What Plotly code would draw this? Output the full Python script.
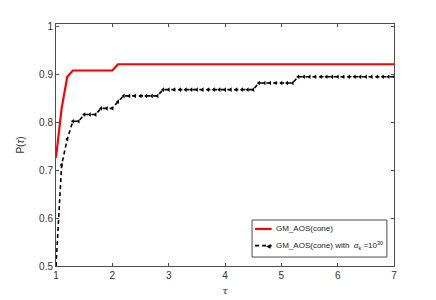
import plotly.graph_objects as go

tau_red = [1.0, 1.1, 1.2, 1.3, 2.0, 2.1, 7.0]
p_red = [0.726, 0.829, 0.895, 0.908, 0.908, 0.921, 0.921]

tau_blk = [1.0, 1.1, 1.2, 1.3, 1.4, 1.5, 1.6, 1.7, 1.8, 1.9, 2.0,
           2.1, 2.2, 2.3, 2.4, 2.5, 2.6, 2.7, 2.8, 2.9, 3.0,
           3.1, 3.2, 3.3, 3.4, 3.5, 3.6, 3.7, 3.8, 3.9, 4.0,
           4.1, 4.2, 4.3, 4.4, 4.5, 4.6, 4.7, 4.8, 4.9, 5.0,
           5.1, 5.2, 5.3, 5.4, 5.5, 5.6, 5.7, 5.8, 5.9, 6.0,
           6.1, 6.2, 6.3, 6.4, 6.5, 6.6, 6.7, 6.8, 6.9, 7.0]
p_blk = [0.500, 0.711, 0.765, 0.802, 0.802, 0.816, 0.816, 0.816, 0.829, 0.829, 0.829,
         0.843, 0.855, 0.855, 0.855, 0.855, 0.855, 0.855, 0.855, 0.868, 0.868,
         0.868, 0.868, 0.868, 0.868, 0.868, 0.868, 0.868, 0.868, 0.868, 0.868,
         0.868, 0.868, 0.868, 0.868, 0.868, 0.882, 0.882, 0.882, 0.882, 0.882,
         0.882, 0.882, 0.895, 0.895, 0.895, 0.895, 0.895, 0.895, 0.895, 0.895,
         0.895, 0.895, 0.895, 0.895, 0.895, 0.895, 0.895, 0.895, 0.895, 0.895]

x_ticks = [1, 2, 3, 4, 5, 6, 7]
y_ticks = [0.5, 0.6, 0.7, 0.8, 0.9, 1.0]
y_labels = ["0.5", "0.6", "0.7", "0.8", "0.9", "1"]

legend_names = ["GM_AOS(cone)",
                "GM_AOS(cone) with  <i>α</i><sub>k</sub> =10<sup>30</sup>"]

FONT = "Liberation Sans, Arial, sans-serif"
AX = "#4d4d4d"
TXT = "#333333"

fig = go.Figure()
fig.add_trace(go.Scatter(
    x=tau_red, y=p_red, mode="lines", name=legend_names[0], showlegend=False,
    line=dict(color="#ff0000", width=2.2)))
fig.add_trace(go.Scatter(
    x=tau_blk, y=p_blk, mode="lines+markers", name=legend_names[1], showlegend=False,
    line=dict(color="black", width=1.6, dash="4px,3px"),
    marker=dict(symbol="triangle-left", size=4, color="black")))

axis_common = dict(
    showline=True, linecolor=AX, linewidth=1, mirror="ticks",
    ticks="inside", ticklen=3, tickcolor=AX, showgrid=False, zeroline=False,
    automargin=False,
    tickfont=dict(family=FONT, size=10, color=TXT))

fig.update_xaxes(range=[1, 7], tickvals=x_ticks,
                 title=dict(text="<i>τ</i>", font=dict(family="DejaVu Serif, serif", size=10, color=TXT), standoff=6),
                 **axis_common)
fig.update_yaxes(range=[0.5, 1.005], tickvals=y_ticks, ticktext=y_labels,
                 title=dict(text="P(<i>τ</i>)", font=dict(family=FONT, size=10, color=TXT), standoff=12),
                 **axis_common)

# manual legend (MATLAB-style compact box)
lx0, lx1, ly0, ly1 = 0.58, 0.979, 0.037, 0.19
row_y = [0.153, 0.084]
fig.add_shape(type="rect", xref="paper", yref="paper", x0=lx0, x1=lx1, y0=ly0, y1=ly1,
              line=dict(color=AX, width=1), fillcolor="white", layer="above")
fig.add_shape(type="line", xref="paper", yref="paper", x0=0.589, x1=0.638,
              y0=row_y[0], y1=row_y[0], line=dict(color="#ff0000", width=2.2), layer="above")
fig.add_shape(type="line", xref="paper", yref="paper", x0=0.589, x1=0.638,
              y0=row_y[1], y1=row_y[1], line=dict(color="black", width=1.6, dash="4px,3px"),
              layer="above")
fig.add_annotation(xref="paper", yref="paper", x=0.628, y=row_y[1], text="◀",
                   showarrow=False, font=dict(size=6, color="black"),
                   xanchor="center", yanchor="middle")
for name, yy in zip(legend_names, row_y):
    fig.add_annotation(xref="paper", yref="paper", x=0.645, y=yy, text=name,
                       showarrow=False, xanchor="left", yanchor="middle",
                       font=dict(family=FONT, size=8, color="#222222"))

fig.update_layout(
    width=428, height=292,
    margin=dict(l=48, r=42, t=16, b=34),
    paper_bgcolor="white", plot_bgcolor="white",
    font=dict(family=FONT, size=10, color=TXT),
    showlegend=False,
)

fig.write_html("out.html")
